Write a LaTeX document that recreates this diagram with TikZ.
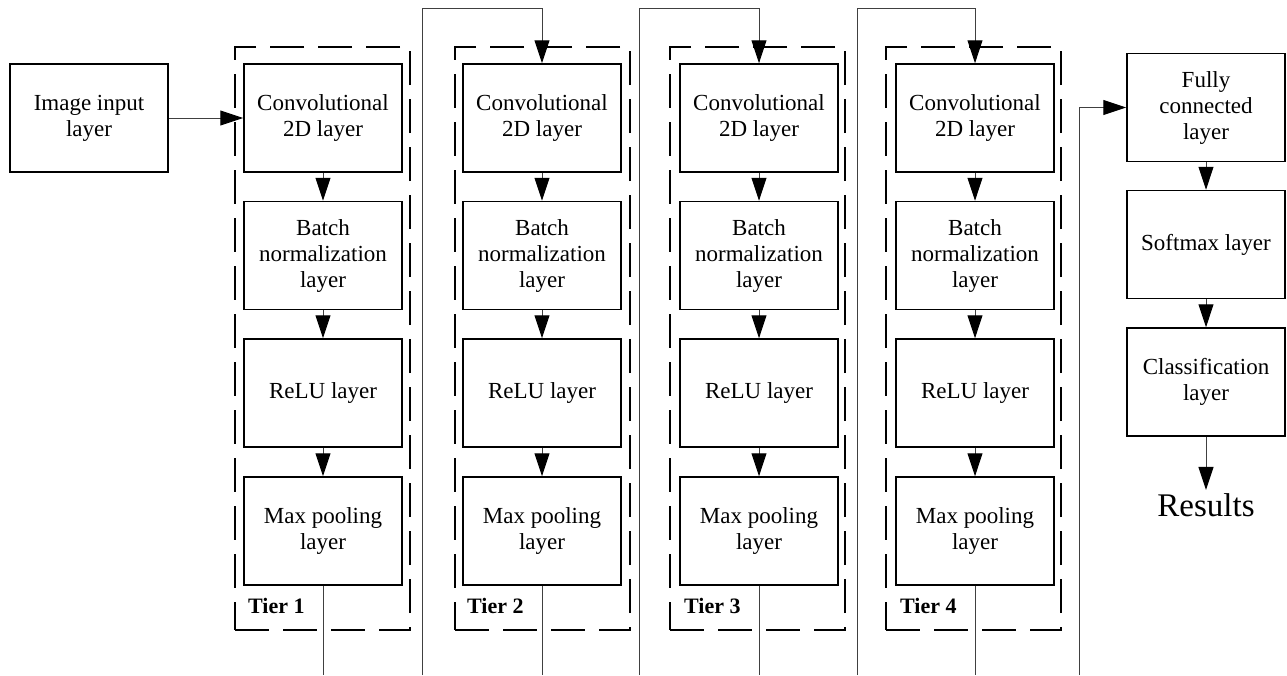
\documentclass[tikz,border=0pt]{standalone}
\usepackage{fontspec}
\setmainfont{Liberation Serif}
\usetikzlibrary{arrows.meta}
\begin{document}
\begin{tikzpicture}[x=1pt,y=-1pt,
  layerbox/.style={draw, line width=1.5pt, minimum width=158pt, minimum height=108pt,
    align=center, inner sep=2pt, font=\fontsize{23}{26}\selectfont},
  tierbox/.style={draw, line width=2pt, dash pattern=on 34pt off 14pt,
    minimum width=175pt, minimum height=583pt, inner sep=0pt},
  conn/.style={line width=1pt, black!75},
  arr/.style={conn, -{Triangle[length=23pt,width=15pt,black]}},
  tierlabel/.style={anchor=base west, inner sep=0pt, font=\fontsize{22}{24}\selectfont\bfseries},
  reslabel/.style={anchor=base, inner sep=3pt, font=\fontsize{33}{36}\selectfont}]
\useasboundingbox (0,0) rectangle (1287,675);

% input
\node[layerbox] (inp) at (89,118) {Image input\\layer};

% tiers
\foreach \i/\x/\l in {1/323/235,2/542/455,3/759/670,4/975/886} {
  \node[tierbox] (tier\i) at ({\l+87.5},338.5) {};
  \node[layerbox] (conv\i) at (\x,118) {Convolutional\\2D layer};
  \node[layerbox] (bn\i) at (\x,255.5) {Batch\\normalization\\layer};
  \node[layerbox] (relu\i) at (\x,393) {ReLU layer};
  \node[layerbox] (max\i) at (\x,531) {Max pooling\\layer};
  \node[tierlabel] (tl\i) at ({\x-75},613) {Tier \i};
  \draw[arr] (conv\i) -- (bn\i);
  \draw[arr] (bn\i) -- (relu\i);
  \draw[arr] (relu\i) -- (max\i);
  \coordinate (o\i) at (\x,675);
  \draw[conn] (max\i.south) -- (o\i);
}

\draw[arr] (inp.east) -- (conv1.west);

% feed lines between tiers
\foreach \i/\fx in {1/422,2/639,3/857} {
  \pgfmathtruncatemacro{\j}{\i+1}
  \coordinate (fb\i) at (\fx,675);
  \coordinate (ft\i) at (\fx,8);
  \draw[arr] (fb\i) -- (ft\i) -| (conv\j.north);
}

% classifier column
\node[layerbox] (fc) at (1206,107.5) {Fully\\connected\\layer};
\node[layerbox] (soft) at (1206,244.5) {Softmax layer};
\node[layerbox] (cls) at (1206,382) {Classification\\layer};
\node[reslabel] (res) at (1206,516) {Results};

\coordinate (fb4) at (1079,675);
\draw[arr] (fb4) |- (fc.west);
\draw[arr] (fc) -- (soft);
\draw[arr] (soft) -- (cls);
\draw[arr] (cls) -- (res);
\end{tikzpicture}
\end{document}
